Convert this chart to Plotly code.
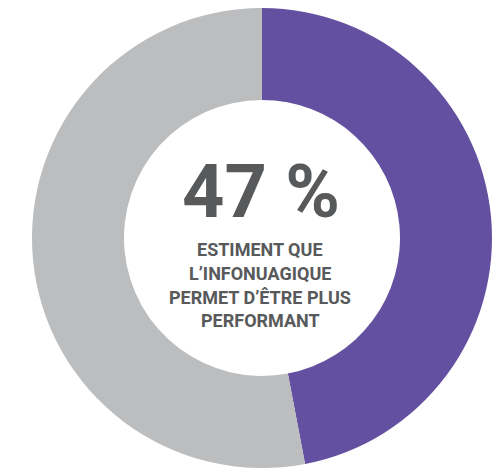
import plotly.graph_objects as go

labels = ["Oui", "Autres"]
values = [47, 53]
colors = ["#6450a0", "#bcbdbf"]
big_text = "47 %"
sub_lines = ["ESTIMENT QUE", "L’INFONUAGIQUE", "PERMET D’ÊTRE PLUS", "PERFORMANT"]

# the page body has an 8px margin, so the figure is sized to fit inside the window
W, H = 496, 462
OFF = 8

def px(x):
    return (x - OFF) / W

def py(y):
    return 1 - (y - OFF) / H

fig = go.Figure(go.Pie(
    labels=labels, values=values, hole=0.6, sort=False, direction="clockwise",
    rotation=0, marker=dict(colors=colors, line=dict(width=0)),
    textinfo="none", hoverinfo="label+percent", showlegend=False,
    domain=dict(x=[24 / W, 484 / W], y=[2 / H, 1]),
))

font_family = "Roboto, Liberation Sans, sans-serif"
fig.add_annotation(x=px(261), y=py(237), xref="paper", yref="paper", text="<b>" + big_text + "</b>",
                   showarrow=False, font=dict(family=font_family, size=74, color="#58595b"),
                   xanchor="center", yanchor="bottom")
ys = [249, 273, 297, 320]
for t, yy in zip(sub_lines, ys):
    fig.add_annotation(x=px(260), y=py(yy), xref="paper", yref="paper", text="<b>" + t + "</b>",
                       showarrow=False, font=dict(family=font_family, size=18, color="#58595b"),
                       xanchor="center", yanchor="middle")

fig.update_layout(width=W, height=H, margin=dict(l=0, r=0, t=0, b=0),
                  paper_bgcolor="white", plot_bgcolor="white")
fig.write_html("out.html")
